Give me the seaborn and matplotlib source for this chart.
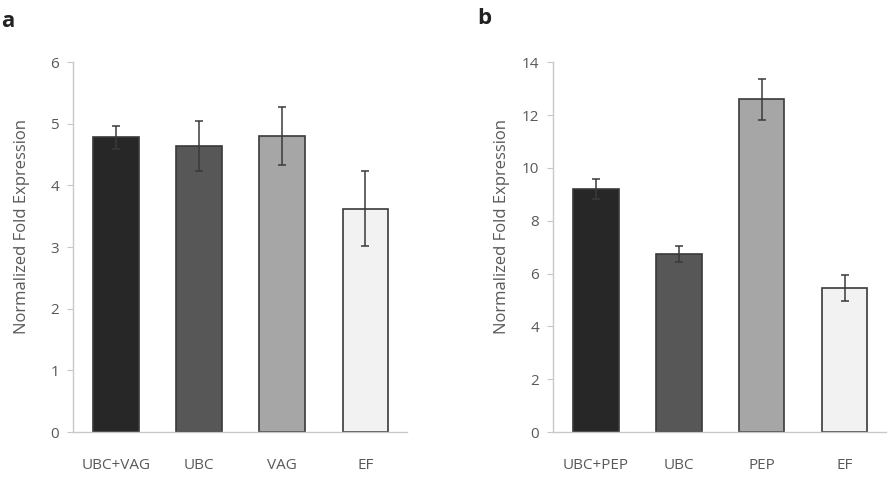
import numpy as np
import pandas as pd
import matplotlib
matplotlib.use("Agg")
import matplotlib.pyplot as plt
import seaborn as sns

# data
cats_a = ["UBC+VAG", "UBC", "VAG", "EF"]
vals_a = [4.78, 4.64, 4.81, 3.62]
err_a = [0.19, 0.40, 0.47, 0.61]

cats_b = ["UBC+PEP", "UBC", "PEP", "EF"]
vals_b = [9.21, 6.74, 12.59, 5.44]
err_b = [0.38, 0.29, 0.78, 0.49]

bar_colors = ["#272727", "#575757", "#a6a6a6", "#f2f2f2"]

sns.set_style("white")
plt.rcParams['font.family'] = ['Open Sans', 'DejaVu Sans']

fig = plt.figure(figsize=(8.88, 4.78), dpi=100)
ax_a = fig.add_axes([0.0822, 0.0962, 0.376, 0.7737])
ax_b = fig.add_axes([0.6227, 0.0962, 0.375, 0.7737])


def draw_panel(ax, cats, vals, errs, ymax, step):
    df = pd.DataFrame({"cat": cats, "val": vals})
    sns.barplot(data=df, x="cat", y="val", hue="cat", palette=bar_colors,
                width=0.55, edgecolor="#3a3a3a", linewidth=1.2,
                legend=False, ax=ax)
    ax.errorbar(np.arange(len(cats)), vals, yerr=errs, fmt="none",
                ecolor="#3a3a3a", elinewidth=1.1, capsize=3, capthick=1.1)
    ax.set_ylim(0, ymax)
    ax.set_yticks(np.arange(0, ymax + 0.1, step))
    ax.set_xlim(-0.52, 3.5)
    ax.set_xlabel("")
    ax.set_ylabel("Normalized Fold Expression", fontsize=12, color="#595959")
    ax.yaxis.set_label_coords(-0.128, 0.557)
    for s in ["top", "right"]:
        ax.spines[s].set_visible(False)
    for s in ["left", "bottom"]:
        ax.spines[s].set_color("#c8c8c8")
        ax.spines[s].set_linewidth(1)
    ax.tick_params(axis="y", left=True, length=4, color="#c8c8c8",
                   labelsize=11, labelcolor="#595959", pad=6)
    ax.tick_params(axis="x", bottom=False, labelsize=11, labelcolor="#595959", pad=15)


draw_panel(ax_a, cats_a, vals_a, err_a, 6, 1)
draw_panel(ax_b, cats_b, vals_b, err_b, 14, 2)

fig.text(0.001, 0.955, "a", fontsize=16, fontweight="bold", color="#222222", va="center")
fig.text(0.538, 0.962, "b", fontsize=16, fontweight="bold", color="#222222", va="center")

fig.savefig("out.png", dpi=100, facecolor="white")
